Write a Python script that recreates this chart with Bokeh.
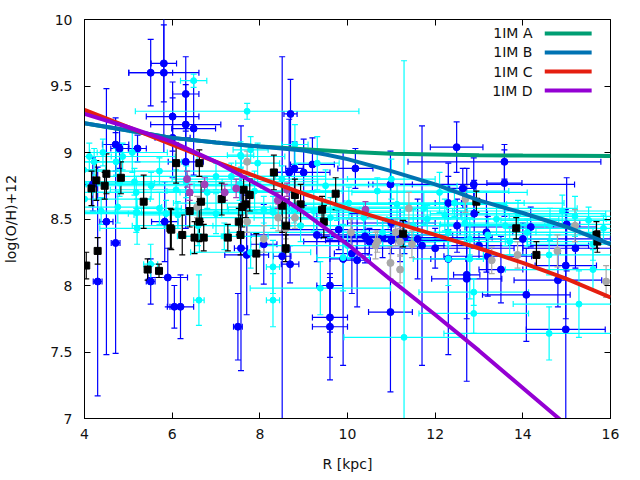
import numpy as np
from bokeh.plotting import figure
from bokeh.models import (ColumnDataSource, Whisker, TeeHead, Range1d, LinearAxis,
                          FixedTicker, Label)
from bokeh.embed import file_html
from bokeh.resources import INLINE

# ---------------- model gradients ----------------
R_model = [4, 5, 6, 7, 8, 8.5, 9, 9.5, 10, 11, 12, 13, 14, 15, 16]
model_A = [9.22, 9.165, 9.11, 9.075, 9.045, 9.035, 9.025, 9.015, 9.005, 8.99, 8.985, 8.98, 8.977, 8.975, 8.973]
model_B = [9.22, 9.165, 9.11, 9.075, 9.045, 9.03, 9.015, 8.985, 8.95, 8.86, 8.76, 8.64, 8.545, 8.44, 8.31]
model_C = [9.32, 9.19, 9.06, 8.93, 8.81, 8.75, 8.69, 8.635, 8.58, 8.48, 8.38, 8.28, 8.17, 8.05, 7.91]
model_D = [9.29, 9.19, 9.08, 8.93, 8.75, 8.66, 8.55, 8.43, 8.31, 8.04, 7.78, 7.51, 7.23, 6.95, 6.67]
model_names = ["1IM A", "1IM B", "1IM C", "1IM D"]

# ---------------- observations: blue (x and y errors) ----------------
blue_R = [5.51, 5.81, 5.81, 6.31, 6.01, 6.31, 6.49, 6.01, 4.71, 4.80, 5.21, 8.70, 8.67, 8.79, 9.00,
          9.20, 4.50, 6.31, 12.49, 13.58, 10.18, 10.98, 12.88, 13.58, 12.63, 15.00, 14.18, 12.30,
          12.89, 13.17, 12.72, 12.72, 13.50, 14.98, 14.08, 14.98, 9.60, 9.60, 10.98, 8.51, 10.10,
          10.22, 4.30, 4.71, 5.51, 5.90, 6.05, 6.19, 7.50, 7.70, 8.09, 4.19, 5.83, 10.40, 10.80,
          11.20, 11.60, 11.00, 7.57, 9.90, 11.70, 12.30, 8.69, 9.60,
          10.50, 11.30, 12.00, 13.00, 14.00, 15.20, 12.50, 11.00, 9.80, 14.80, 13.20, 9.30]
blue_OH = [9.60, 9.67, 9.60, 9.44, 9.27, 9.21, 9.18, 9.11, 9.06, 9.03, 9.03, 9.29, 8.85, 8.88, 8.85,
           8.91, 8.48, 8.93, 9.04, 8.93, 8.88, 8.76, 8.76, 8.77, 8.73, 8.46, 8.44, 8.62,
           8.54, 8.40, 8.08, 8.05, 8.12, 8.15, 7.93, 7.67, 7.76, 7.69, 7.80, 8.22, 8.24,
           8.19, 8.03, 8.32, 8.03, 8.06, 7.84, 7.84, 7.69, 8.23, 8.31, 8.76, 8.48, 8.37, 8.36,
           8.38, 8.35, 8.34, 8.28, 8.20, 8.30, 8.20, 8.16, 8.00,
           8.33, 8.36, 8.28, 8.30, 8.35, 8.28, 8.45, 8.47, 8.42, 8.04, 8.22, 8.38]
blue_eR = [0.5, 0.29, 0.8, 0.3, 0.6, 0.8, 0.5, 0.4, 0.3, 0.2, 0.2, 0.15, 0.3, 0.2, 0.6,
           0.5, 0.15, 0.4, 0.6, 2.2, 0.4, 0.5, 2.3, 0.4, 0.3, 0.3, 1.5, 0.3,
           0.3, 0.6, 0.3, 0.8, 0.5, 0.7, 1.0, 0.9, 0.4, 0.4, 0.5, 0.2, 0.4,
           0.3, 0.1, 0.1, 0.1, 0.45, 0.1, 0.3, 0.1, 0.5, 0.3, 0.3, 0.3, 1.0, 0.8,
           1.2, 0.6, 1.5, 0.15, 0.3, 0.5, 0.4, 0.2, 0.3,
           1.5, 2.0, 1.8, 2.5, 2.0, 1.2, 1.5, 1.0, 1.2, 1.0, 1.0, 1.5]
blue_eOH = [0.25, 0.29, 0.6, 0.28, 0.26, 0.3, 0.35, 0.3, 0.2, 0.15, 0.1, 0.26, 0.4, 0.2, 0.25,
            0.2, 1.0, 0.5, 0.19, 0.13, 0.15, 0.25, 0.2, 0.25, 0.15, 0.35, 0.15, 0.2,
            0.25, 0.3, 0.8, 0.3, 0.25, 0.4, 0.35, 0.9, 0.3, 0.4, 0.6, 1.5, 0.3,
            0.35, 0.86, 0.83, 0.17, 0.22, 0.16, 0.24, 0.25, 0.45, 0.3, 0.2, 0.3, 0.2, 0.15,
            0.2, 0.3, 0.1, 0.92, 0.8, 0.9, 0.72, 0.14, 0.35,
            0.1, 0.12, 0.15, 0.1, 0.12, 0.15, 0.2, 0.15, 0.15, 0.2, 0.3, 0.2]

# ---------------- observations: cyan (x and y errors) ----------------
cyan_R = [6.49, 7.71, 3.98, 4.42, 4.87, 5.09, 7.56, 7.79, 5.20, 5.20, 11.29, 12.88, 12.88, 14.60,
          15.28, 9.38, 5.51, 6.61, 8.30, 8.30, 7.79, 9.90, 12.30, 12.79, 15.60, 14.60, 4.11, 4.72,
          5.14, 5.18, 4.80, 5.18, 5.52, 5.71, 6.32, 6.09, 7.00, 6.80, 7.00, 6.13, 5.71, 5.86, 7.35,
          7.54, 7.88, 7.57, 6.59, 4.38, 4.76, 4.22, 7.95, 8.80, 8.09, 8.30, 8.78, 9.23, 9.76, 10.03,
          10.68, 11.13, 11.74, 10.37, 9.61, 8.93, 11.82, 9.31, 12.10, 12.44, 12.22, 12.68, 13.40,
          13.60, 13.89, 14.62, 15.19, 15.84, 12.30, 12.79, 13.70, 15.60, 7.19, 6.62, 10.80, 11.50,
          14.10, 10.00, 4.00, 8.50, 9.50, 11.00, 14.90, 15.50, 13.20]
cyan_OH = [9.54, 9.31, 8.87, 9.00, 8.97, 9.00, 8.98, 9.02, 8.43, 8.55, 7.61, 7.95, 7.79, 7.64,
           7.86, 7.98, 8.16, 7.89, 7.89, 8.14, 8.25, 8.21, 8.20, 8.20, 8.12, 8.23, 8.97, 8.93,
           8.78, 8.70, 8.77, 8.55, 8.75, 8.86, 8.78, 8.72, 8.82, 8.70, 8.54, 8.53, 8.58, 8.54, 8.82,
           8.76, 8.71, 8.97, 8.45, 8.56, 8.59, 8.93, 8.92, 9.06, 8.57, 8.55, 8.57, 8.56, 8.59, 8.62,
           8.71, 8.61, 8.58, 8.51, 8.51, 8.45, 8.50, 8.92, 8.70, 8.62, 8.53, 8.47, 8.50,
           8.45, 8.54, 8.46, 8.52, 8.43, 8.40, 8.35, 8.33, 8.31, 8.37, 8.37, 8.40, 8.45,
           8.40, 8.30, 8.65, 8.80, 8.75, 8.80, 8.56, 8.49, 8.38]
cyan_eR = [0.3, 2.55, 0.5, 0.3, 1.2, 0.8, 0.3, 0.4, 0.85, 0.5, 1.37, 1.25, 1.25, 2.4,
           1.5, 1.6, 0.16, 0.12, 0.15, 0.15, 1.37, 0.6, 0.8, 0.5, 2.0, 1.5, 0.5, 1.5,
           2.0, 1.0, 0.8, 1.2, 2.5, 1.8, 3.0, 1.5, 2.5, 3.0, 2.0, 1.0, 0.5, 2.5, 1.0,
           3.5, 2.0, 1.0, 1.5, 0.8, 1.0, 0.6, 0.5, 0.3, 2.0, 3.0, 1.5, 3.5, 2.5, 4.0,
           3.0, 2.5, 3.5, 2.5, 3.0, 2.0, 3.0, 0.5, 2.0, 2.5, 3.0, 2.0, 2.5,
           1.5, 2.0, 2.5, 1.5, 2.0, 3.0, 2.0, 2.5, 1.5, 1.0, 0.5, 3.5, 3.0,
           2.0, 2.0, 1.5, 2.5, 3.0, 1.0, 2.5, 2.0, 3.0]
cyan_eOH = [0.05, 0.06, 0.1, 0.1, 0.1, 0.15, 0.1, 0.1, 0.12, 0.1, 2.08, 0.1, 0.15, 0.2,
            0.25, 0.2, 0.15, 0.19, 0.2, 0.2, 0.12, 0.25, 0.2, 0.3, 0.15, 0.15, 0.1, 0.1,
            0.1, 0.12, 0.1, 0.15, 0.1, 0.1, 0.12, 0.15, 0.1, 0.12, 0.15, 0.1, 0.12, 0.1, 0.1,
            0.12, 0.15, 0.08, 0.15, 0.1, 0.12, 0.1, 0.15, 0.15, 0.1, 0.12, 0.1, 0.15, 0.1, 0.12,
            0.1, 0.15, 0.12, 0.1, 0.15, 0.12, 0.1, 0.2, 0.15, 0.1, 0.12, 0.15, 0.12,
            0.15, 0.1, 0.12, 0.15, 0.1, 0.1, 0.12, 0.1, 0.12, 0.1, 0.12, 0.1, 0.12,
            0.1, 0.1, 0.1, 0.1, 0.12, 0.15, 0.12, 0.1, 0.12]

# ---------------- observations: black squares (y errors) ----------------
black_R = [4.16, 4.27, 4.50, 4.46, 4.83, 5.35, 6.09, 6.62, 6.66, 6.40, 6.62, 5.96, 7.13, 7.63,
           7.60, 7.68, 7.77, 7.52, 8.32, 8.51, 8.80, 8.93, 8.60, 6.23, 9.73, 9.42, 9.46, 11.27,
           12.94, 13.85, 15.68, 14.31, 15.70, 4.04, 4.30, 5.44, 5.70, 7.92, 8.59, 6.51, 6.72,
           7.27, 5.98, 7.56]
black_OH = [8.73, 8.79, 8.84, 8.75, 8.81, 8.63, 8.92, 8.92, 8.63, 8.56, 8.48, 8.43, 8.65, 8.72,
            8.59, 8.61, 8.68, 8.48, 8.85, 8.60, 8.68, 8.61, 8.45, 8.38, 8.69, 8.57, 8.48, 8.39,
            8.63, 8.43, 8.38, 8.23, 8.33, 8.15, 8.26, 8.12, 8.11, 8.24, 8.28, 8.36, 8.36,
            8.36, 8.42, 8.38]
black_eOH = [0.13, 0.15, 0.15, 0.1, 0.12, 0.2, 0.15, 0.1, 0.15, 0.12, 0.15, 0.15, 0.12, 0.1,
             0.15, 0.1, 0.12, 0.1, 0.13, 0.2, 0.12, 0.15, 0.2, 0.15, 0.12, 0.1, 0.12, 0.1,
             0.08, 0.08, 0.1, 0.1, 0.08, 0.1, 0.1, 0.08, 0.05, 0.15, 0.1, 0.12, 0.1,
             0.1, 0.15, 0.15]

# ---------------- observations: grey (y errors) ----------------
grey_R = [7.71, 6.57, 7.71, 8.42, 8.59, 8.80, 8.09, 10.08, 10.68, 10.64, 10.98, 11.10, 11.20,
          11.20, 11.47, 13.29, 13.88, 14.79, 15.19, 15.90, 12.69, 11.40]
grey_OH = [8.93, 8.59, 8.48, 8.51, 8.43, 8.51, 8.35, 8.40, 8.33, 8.30, 8.17, 8.40, 8.33,
           8.12, 8.31, 8.19, 8.23, 8.26, 8.45, 8.03, 8.65, 8.58]
grey_eOH = [0.08, 0.08, 0.08, 0.1, 0.08, 0.08, 0.1, 0.1, 0.08, 0.1, 0.12, 0.1, 0.1,
            0.1, 0.1, 0.1, 0.1, 0.12, 0.12, 0.12, 0.1, 0.12]

# ---------------- observations: purple (y errors) ----------------
purple_R = [6.34, 6.40, 6.74, 7.20, 7.46, 8.41, 8.62, 10.41]
purple_OH = [8.80, 8.70, 8.76, 8.70, 8.73, 8.64, 8.72, 8.57]
purple_eOH = [0.06, 0.06, 0.05, 0.06, 0.07, 0.06, 0.05, 0.06]

# ---------------- styling ----------------
FONT = "DejaVu Sans"
C_BLUE, C_CYAN, C_BLACK, C_GREY, C_PURPLE = "#0000ff", "#00ffff", "#000000", "#a8a8a8", "#a040b8"
LINE_COLORS = ["#009e73", "#0072b2", "#e51e10", "#9400d3"]

p = figure(frame_width=526, frame_height=399, output_backend="svg", toolbar_location=None,
           x_range=Range1d(4, 16), y_range=Range1d(7, 10),
           min_border_left=76, min_border_right=22, min_border_top=19, min_border_bottom=50)
p.background_fill_color = "white"
p.border_fill_color = "white"
p.outline_line_color = "black"
p.outline_line_width = 1
p.xgrid.visible = False
p.ygrid.visible = False

xt = [4, 6, 8, 10, 12, 14, 16]
yt = [7, 7.5, 8, 8.5, 9, 9.5, 10]
for ax, ticks in ((p.xaxis[0], xt), (p.yaxis[0], yt)):
    ax.ticker = FixedTicker(ticks=ticks)
    ax.major_tick_in = 6
    ax.major_tick_out = 0
    ax.minor_tick_line_color = None
    ax.axis_line_color = "black"
    ax.major_tick_line_color = "black"
    ax.major_label_text_font = FONT
    ax.major_label_text_font_size = "14px"
    ax.major_label_text_color = "#111111"
    ax.axis_label_text_font = FONT
    ax.axis_label_text_font_size = "14px"
    ax.axis_label_text_font_style = "normal"
    ax.axis_label_text_color = "#111111"
p.xaxis[0].axis_label = "R [kpc]"
p.yaxis[0].axis_label = "log(O/H)+12"
p.xaxis[0].major_label_standoff = 10
p.xaxis[0].axis_label_standoff = 14
p.yaxis[0].major_label_standoff = 12
p.yaxis[0].axis_label_standoff = 28
p.yaxis[0].major_label_overrides = {7: "7", 8: "8", 9: "9", 10: "10"}

# mirrored ticks on top and right
top = LinearAxis(ticker=FixedTicker(ticks=xt), major_label_overrides={t: "" for t in xt},
                 major_tick_in=6, major_tick_out=0, minor_tick_line_color=None,
                 axis_line_color=None, major_label_standoff=0)
right = LinearAxis(ticker=FixedTicker(ticks=yt), major_label_overrides={t: "" for t in yt},
                   major_tick_in=6, major_tick_out=0, minor_tick_line_color=None,
                   axis_line_color=None, major_label_standoff=0)
p.add_layout(top, "above")
p.add_layout(right, "right")


def xy_errors(R, OH, eR, eOH, color, marker, size):
    R = np.asarray(R, float); OH = np.asarray(OH, float)
    data = dict(R=R, OH=OH)
    if eR is not None:
        eR = np.asarray(eR, float)
        data["xl"] = R - eR
        data["xu"] = R + eR
    eOH = np.asarray(eOH, float)
    data["yl"] = OH - eOH
    data["yu"] = OH + eOH
    src = ColumnDataSource(data)
    if eR is not None:
        p.add_layout(Whisker(source=src, base="OH", lower="xl", upper="xu", dimension="width",
                             line_color=color, line_width=1.2,
                             lower_head=TeeHead(size=6, line_color=color, line_width=1.2),
                             upper_head=TeeHead(size=6, line_color=color, line_width=1.2)))
    p.add_layout(Whisker(source=src, base="R", lower="yl", upper="yu", dimension="height",
                         line_color=color, line_width=1.2,
                         lower_head=TeeHead(size=6, line_color=color, line_width=1.2),
                         upper_head=TeeHead(size=6, line_color=color, line_width=1.2)))
    return src, color, marker, size


sets = [
    xy_errors(blue_R, blue_OH, blue_eR, blue_eOH, C_BLUE, "circle", 7),
    xy_errors(cyan_R, cyan_OH, cyan_eR, cyan_eOH, C_CYAN, "circle", 6),
    xy_errors(grey_R, grey_OH, None, grey_eOH, C_GREY, "circle", 7),
    xy_errors(black_R, black_OH, None, black_eOH, C_BLACK, "square", 7),
    xy_errors(purple_R, purple_OH, None, purple_eOH, C_PURPLE, "circle", 7),
]
for src, color, marker, size in sets:
    p.scatter("R", "OH", source=src, marker=marker, size=size,
              fill_color=color, line_color=color)

for vals, col in zip([model_A, model_B, model_C, model_D], LINE_COLORS):
    p.line(R_model, vals, line_color=col, line_width=4)

# legend (text left, sample right, as in the original)
leg_y = [9.895, 9.752, 9.609, 9.466]
for name, col, yy in zip(model_names, LINE_COLORS, leg_y):
    p.add_layout(Label(x=14.22, y=yy, text=name, text_align="right", text_baseline="middle",
                       text_font=FONT, text_font_size="14px", text_color="#111111"))
    p.segment(x0=[14.5], y0=[yy], x1=[15.57], y1=[yy], line_color=col, line_width=4)

open("out.html", "w").write(file_html(p, INLINE))
